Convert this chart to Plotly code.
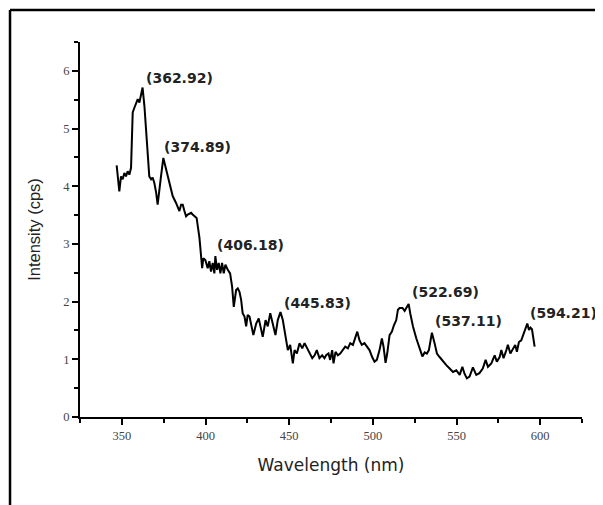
import plotly.graph_objects as go

# Spectrum
wavelength = [346.9, 348.5, 349.5, 350.5, 351.5, 352.5, 353.5, 354.5, 355.5, 356.5,
              357.5, 358.5, 359.5, 360.5, 361.5, 362.4, 363.5, 364.5, 365.4, 366.4,
              367.5, 368.4, 369.4, 370.5, 371.4, 372.4, 373.4, 374.8, 376.4, 378.4,
              380.4, 382.4, 383.4, 384.4, 385.4, 386.4, 387.4, 388.4, 389.4, 391.4,
              392.3, 393.4, 394.7, 396.4, 397.4, 398.0, 398.7, 399.9, 401.3, 402.3,
              403.3, 404.3, 405.3, 405.9, 406.9, 407.9, 408.9, 409.9, 410.9, 411.9,
              413.3, 414.7, 415.9, 416.9, 418.3, 419.3, 420.3, 421.3, 422.2, 423.3,
              424.3, 425.2, 426.3, 427.3, 428.6, 430.3, 431.8, 433.3, 434.2, 435.9,
              437.2, 438.7, 440.2, 441.8, 443.2, 444.8, 446.2, 447.8, 449.2, 450.6,
              452.2, 453.2, 454.6, 456.2, 457.8, 459.2, 460.8, 462.1, 463.8, 465.2,
              466.5, 468.1, 469.7, 471.1, 472.1, 473.5, 474.5, 475.7, 476.5, 477.7,
              479.1, 480.5, 482.1, 483.5, 485.1, 486.5, 488.1, 489.7, 490.7, 492.0,
              493.4, 495.0, 496.6, 498.0, 499.6, 501.0, 502.4, 504.0, 505.4, 506.4,
              507.6, 508.6, 510.0, 511.4, 512.6, 514.0, 515.0, 516.0, 517.7, 519.0,
              520.0, 521.4, 522.4, 524.0, 526.0, 528.0, 529.6, 531.0, 532.3, 533.5,
              535.3, 536.9, 538.3, 539.9, 541.9, 543.9, 545.9, 547.9, 549.9, 551.9,
              553.5, 554.8, 556.2, 557.8, 559.8, 561.8, 563.7, 565.7, 567.4, 568.8,
              570.8, 572.8, 574.1, 575.8, 576.8, 578.1, 579.8, 580.7, 582.2, 583.7,
              585.1, 586.1, 587.3, 588.7, 590.1, 591.3, 592.3, 593.3, 594.2, 595.1,
              595.7, 596.7]
intensity = [4.36, 3.91, 4.17, 4.12, 4.23, 4.17, 4.26, 4.20, 4.32, 5.28,
             5.36, 5.45, 5.51, 5.45, 5.59, 5.71, 5.39, 4.93, 4.52, 4.17,
             4.12, 4.15, 4.06, 3.89, 3.68, 3.89, 4.17, 4.49, 4.29, 4.06,
             3.83, 3.71, 3.62, 3.57, 3.68, 3.68, 3.57, 3.48, 3.51, 3.54,
             3.51, 3.48, 3.45, 3.10, 2.78, 2.58, 2.75, 2.72, 2.58, 2.70,
             2.52, 2.67, 2.49, 2.79, 2.55, 2.67, 2.49, 2.67, 2.49, 2.64,
             2.55, 2.49, 2.26, 1.91, 2.20, 2.23, 2.17, 2.03, 1.80, 1.74,
             1.57, 1.77, 1.74, 1.57, 1.42, 1.62, 1.71, 1.51, 1.39, 1.68,
             1.57, 1.80, 1.62, 1.42, 1.68, 1.82, 1.68, 1.39, 1.16, 1.25,
             0.93, 1.16, 1.10, 1.28, 1.19, 1.28, 1.19, 1.10, 1.02, 1.07,
             1.16, 1.02, 1.07, 1.02, 1.07, 1.10, 0.99, 1.16, 0.93, 1.13,
             1.07, 1.10, 1.16, 1.22, 1.19, 1.28, 1.25, 1.39, 1.48, 1.33,
             1.25, 1.28, 1.22, 1.16, 1.04, 0.96, 0.99, 1.16, 1.36, 1.22,
             0.94, 1.10, 1.42, 1.48, 1.59, 1.68, 1.86, 1.89, 1.89, 1.84,
             1.89, 1.96, 1.79, 1.57, 1.36, 1.20, 1.05, 1.12, 1.10, 1.16,
             1.46, 1.28, 1.10, 1.04, 0.96, 0.90, 0.84, 0.78, 0.81, 0.73,
             0.87, 0.75, 0.67, 0.70, 0.86, 0.73, 0.76, 0.84, 0.99, 0.87,
             0.93, 1.07, 0.96, 1.04, 1.16, 1.02, 1.16, 1.25, 1.10, 1.19,
             1.25, 1.13, 1.30, 1.33, 1.45, 1.57, 1.62, 1.51, 1.55, 1.52,
             1.39, 1.22]

# Peak labels and where they sit
peak_labels = ["(362.92)", "(374.89)", "(406.18)", "(445.83)",
               "(522.69)", "(537.11)", "(594.21)"]
label_x = [363.5, 374.2, 405.9, 445.8, 522.4, 535.7, 592.5]
label_y = [5.88, 4.68, 2.99, 1.98, 2.16, 1.66, 1.81]

fig = go.Figure()

fig.add_trace(go.Scatter(
    x=wavelength, y=intensity, mode="lines",
    line=dict(color="black", width=2),
    showlegend=False, hoverinfo="skip"
))

# the source picture is stretched sideways, so a wide font fits the labels best
for txt, lx, ly in zip(peak_labels, label_x, label_y):
    fig.add_annotation(x=lx, y=ly, text="<b>%s</b>" % txt, showarrow=False,
                       xanchor="left", yanchor="middle",
                       font=dict(family="DejaVu Sans", size=14, color="#222"))

tick_font = dict(family="Times New Roman, Liberation Serif", size=12.5, color="#444")

fig.update_xaxes(
    range=[325, 625], tickvals=[350, 400, 450, 500, 550, 600],
    showline=True, linecolor="black", linewidth=2, showgrid=False, zeroline=False,
    ticks="outside", ticklen=6, tickwidth=2, tickcolor="black",
    minor=dict(ticks="outside", ticklen=4, tickwidth=1.5, tickcolor="black",
               tickvals=[325, 375, 425, 475, 525, 575, 625]),
    tickfont=tick_font,
    title=dict(text="Wavelength (nm)", standoff=17,
               font=dict(family="DejaVu Sans", size=17, color="#222"))
)
fig.update_yaxes(
    range=[0, 6.5], tickvals=[0, 1, 2, 3, 4, 5, 6],
    showline=True, linecolor="black", linewidth=2, showgrid=False, zeroline=False,
    ticks="outside", ticklen=6, tickwidth=2, tickcolor="black",
    minor=dict(ticks="outside", ticklen=4, tickwidth=1.5, tickcolor="black",
               tickvals=[0.5, 1.5, 2.5, 3.5, 4.5, 5.5, 6.5]),
    tickfont=tick_font,
    title=dict(text="Intensity (cps)", standoff=18,
               font=dict(family="Arial, Liberation Sans", size=16.5, color="#222"))
)

# frame lines along the top and left edge of the image
fig.add_shape(type="line", xref="paper", yref="paper",
              x0=-0.1394, x1=1.1, y0=1.0853, y1=1.0853,
              line=dict(color="black", width=2.5))
fig.add_shape(type="line", xref="paper", yref="paper",
              x0=-0.1394, x1=-0.1394, y0=1.0853, y1=-0.3,
              line=dict(color="black", width=2.5))

# page body adds an 8px margin, so the figure is 8px smaller and shifted margins
fig.update_layout(
    width=595, height=497,
    margin=dict(l=72, r=21, t=34, b=88),
    plot_bgcolor="white", paper_bgcolor="white",
)

fig.write_html("out.html")
